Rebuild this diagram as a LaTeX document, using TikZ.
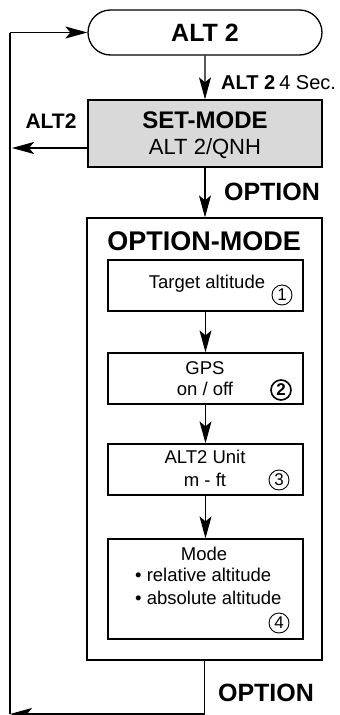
\documentclass[tikz,border=0pt]{standalone}
\usepackage{fontspec}
\setmainfont{Liberation Sans}
\usetikzlibrary{arrows.meta,shapes.misc}
\newcommand{\fsz}[1]{\fontsize{#1}{#1}\selectfont}
\tikzset{
  box/.style={draw,line width=1.3pt,rectangle,inner sep=0pt},
  flow/.style={line width=1.1pt,-{Stealth[length=22pt,width=12pt,inset=5pt]}},
  line/.style={line width=1.1pt},
  num/.style={circle,draw,line width=0.9pt,inner sep=0pt,minimum size=20pt,font=\fsz{17}},
  txt/.style={inner sep=0pt,font=\fsz{18.5}},
}

\begin{document}
\begin{tikzpicture}[x=1pt,y=-1pt]
    \useasboundingbox (0,0) rectangle (340,715);
    %ALT 2
    \node[box,rounded rectangle,minimum width=234pt,minimum height=45pt,font=\bfseries\fsz{25}] (alt) at (205,32.5) {ALT 2};
    %SET-MODE
    \node[box,fill=gray!30,minimum width=234pt,minimum height=67pt] (setm) at (205,133.5) {};
    \node[inner sep=0pt,font=\bfseries\fsz{24}] (setmt) at (205,120) {SET-MODE};
    \node[inner sep=0pt,font=\fsz{22}] (setmq) at (205,149) {ALT 2/QNH};
    \draw[flow] (alt) -- (setm);
    \node[anchor=west,inner sep=0pt,font=\fsz{20}] (lalt) at (221,83) {\textbf{ALT 2}\hspace{4pt}4 Sec.};
    %OPTION-MODE
    \node[box,minimum width=235pt,minimum height=442pt] (optm) at (204.5,439) {};
    \node[inner sep=0pt,font=\bfseries\fsz{27}] (optt) at (204,241) {OPTION-MODE};
    \draw[flow] (setm.south) -- (setm.south |- optm.north);
    \node[inner sep=0pt,font=\bfseries\fsz{25}] (lopt) at (272,192) {OPTION};
    %option 1
    \node[box,minimum width=195pt,minimum height=51pt] (o1) at (205.5,285.5) {};
    \node[txt] (o1a) at (207,284) {Target altitude};
    \node[num] (n1) at (282,295) {1};
    %option 2
    \node[box,minimum width=195pt,minimum height=51pt] (o2) at (205.5,378.5) {};
    \node[txt] (o2a) at (205,368) {GPS};
    \node[txt] (o2b) at (205,389) {on / off};
    \node[num,line width=1.6pt,font=\bfseries\fsz{17}] (n2) at (281,390) {2};
    %option 3
    \node[box,minimum width=195pt,minimum height=51pt] (o3) at (205.5,469.5) {};
    \node[txt] (o3a) at (205,457) {ALT2 Unit};
    \node[txt] (o3b) at (205,480) {m - ft};
    \node[num] (n3) at (279,480) {3};
    %option 4
    \node[box,minimum width=195pt,minimum height=100pt] (o4) at (205.5,589) {};
    \node[txt] (o4a) at (204,554) {Mode};
    \node[txt,anchor=west] (o4b) at (135,575) {\textbullet\ relative altitude};
    \node[txt,anchor=west] (o4c) at (135,598) {\textbullet\ absolute altitude};
    \node[num] (n4) at (279,623) {4};
    \draw[flow] (o1) -- (o2);
    \draw[flow] (o2) -- (o3);
    \draw[flow] (o3) -- (o4);
    %loop back
    \coordinate (lt) at (10,32.5);
    \coordinate (lb) at (10,714);
    \coordinate (la) at (12,148);
    \draw[line] (lb) -- (lt);
    \draw[flow] (lt) -- (alt.west);
    \draw[flow] (setm.west |- la) -- (la);
    \node[inner sep=0pt,font=\bfseries\fsz{21}] (lalt2) at (51,121) {ALT2};
    \draw[flow] (optm.south) |- (lb);
    \node[inner sep=0pt,font=\bfseries\fsz{25}] (lopt2) at (266,693) {OPTION};
\end{tikzpicture}
\end{document}
